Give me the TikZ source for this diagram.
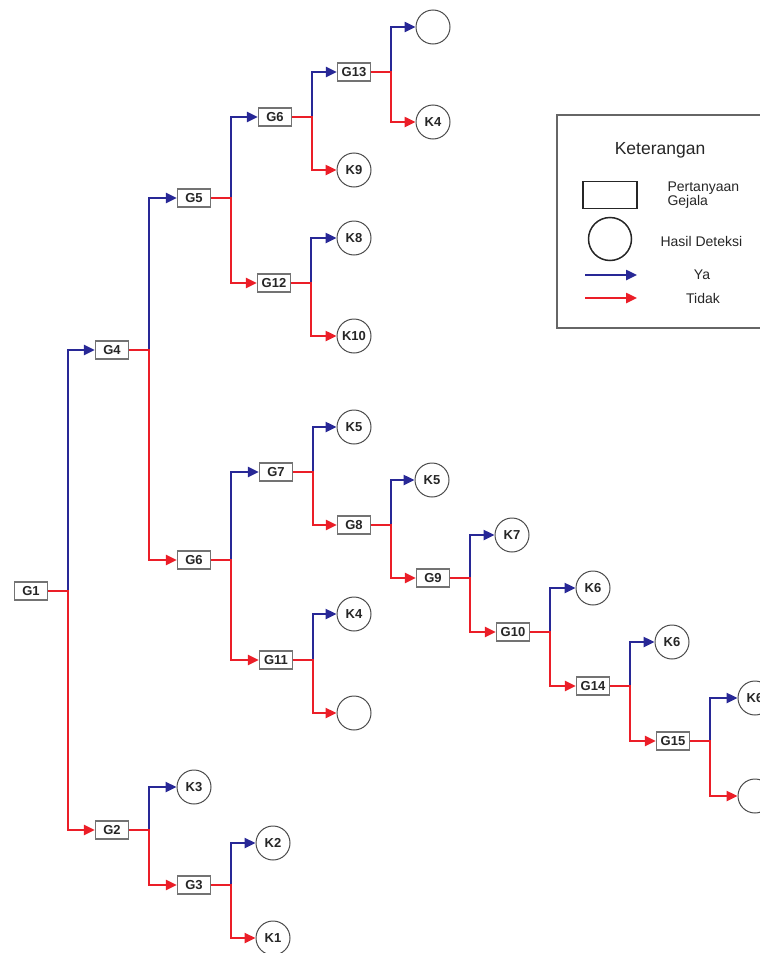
\documentclass[tikz,border=0pt]{standalone}
\usepackage{fontspec}
\setmainfont{Liberation Sans}
\usetikzlibrary{positioning, arrows.meta}

\definecolor{yablue}{RGB}{40,40,150}
\definecolor{tdkred}{RGB}{235,30,40}

\tikzset{
  gejala/.style={draw=black!55, line width=1.2pt, fill=white, minimum width=33pt,
    minimum height=18pt, inner sep=1pt, font=\fontsize{13}{15}\selectfont\bfseries, text=black!85},
  hasil/.style={circle, draw=black!70, line width=1pt, fill=white, minimum size=34pt,
    inner sep=0pt, font=\fontsize{13}{15}\selectfont\bfseries, text=black!85},
  ya/.style={draw=yablue, line width=2.4pt, -{Triangle[length=11pt,width=10pt]}},
  tdk/.style={draw=tdkred, line width=2.4pt, -{Triangle[length=11pt,width=10pt]}},
  ket/.style={font=\fontsize{14}{15}\selectfont, text=black!85}
}

\begin{document}
\begin{tikzpicture}[x=1pt, y=-1pt]
  \useasboundingbox (0,0) rectangle (760,953);
  \clip (0,0) rectangle (760,953);

  % pertanyaan gejala
  \node[gejala] (g1)  at (31,591)  {G1};
  \node[gejala] (g4)  at (112,350) {G4};
  \node[gejala] (g2)  at (112,830) {G2};
  \node[gejala] (g5)  at (194,198) {G5};
  \node[gejala] (g6b) at (194,560) {G6};
  \node[gejala] (g6a) at (275,117) {G6};
  \node[gejala] (g12) at (274,283) {G12};
  \node[gejala] (g13) at (354,72)  {G13};
  \node[gejala] (g7)  at (276,472) {G7};
  \node[gejala] (g11) at (276,660) {G11};
  \node[gejala] (g8)  at (354,525) {G8};
  \node[gejala] (g9)  at (433,578) {G9};
  \node[gejala] (g10) at (513,632) {G10};
  \node[gejala] (g14) at (593,686) {G14};
  \node[gejala] (g15) at (673,741) {G15};
  \node[gejala] (g3)  at (194,885) {G3};

  % hasil deteksi
  \node[hasil] (ka)  at (433,27)  {};
  \node[hasil] (k4a) at (433,122) {K4};
  \node[hasil] (k9)  at (354,170) {K9};
  \node[hasil] (k8)  at (354,238) {K8};
  \node[hasil] (k10) at (354,336) {K10};
  \node[hasil] (k5a) at (354,427) {K5};
  \node[hasil] (k5b) at (432,480) {K5};
  \node[hasil] (k7)  at (512,535) {K7};
  \node[hasil] (k6a) at (593,588) {K6};
  \node[hasil] (k6b) at (672,642) {K6};
  \node[hasil] (k6c) at (755,698) {K6};
  \node[hasil] (kb)  at (755,796) {};
  \node[hasil] (k4b) at (354,614) {K4};
  \node[hasil] (kc)  at (354,713) {};
  \node[hasil] (k3)  at (194,787) {K3};
  \node[hasil] (k2)  at (273,843) {K2};
  \node[hasil] (k1)  at (273,938) {K1};

  % cabang ya / tidak
  \foreach \p/\y/\n in {g1/g4/g2, g4/g5/g6b, g5/g6a/g12, g6a/g13/k9, g13/ka/k4a,
      g12/k8/k10, g6b/g7/g11, g7/k5a/g8, g8/k5b/g9, g9/k7/g10, g10/k6a/g14,
      g14/k6b/g15, g15/k6c/kb, g11/k4b/kc, g2/k3/g3, g3/k2/k1} {
    \draw[ya] (\p.east) ++(20,0) |- (\y.west);
    \draw[tdk] (\p.east) -- ++(20,0) |- (\n.west);
  }

  % keterangan
  \draw[black!60, line width=1.2pt] (557,115) rectangle (775,328);
  \node[font=\fontsize{17.5}{19}\selectfont, text=black!85] (judul) at (660,150) {Keterangan};
  \node[draw=black!85, line width=1.8pt, minimum width=54pt, minimum height=27pt] (lkotak) at (610,195) {};
  \node[ket, anchor=west, align=left] (lgejala) at (664,195) {Pertanyaan\\[-1pt]Gejala};
  \node[circle, draw=black!85, line width=1.5pt, minimum size=43pt] (lbulat) at (610,239) {};
  \node[ket, anchor=west] (ldeteksi) at (657,241) {Hasil Deteksi};
  \coordinate (yaa) at (585,275);
  \coordinate (yab) at (637,275);
  \coordinate (tda) at (585,298);
  \coordinate (tdb) at (637,298);
  \draw[ya] (yaa) -- (yab);
  \draw[tdk] (tda) -- (tdb);
  \node[ket] (lya) at (702,275) {Ya};
  \node[ket] (ltdk) at (703,298) {Tidak};
\end{tikzpicture}
\end{document}
